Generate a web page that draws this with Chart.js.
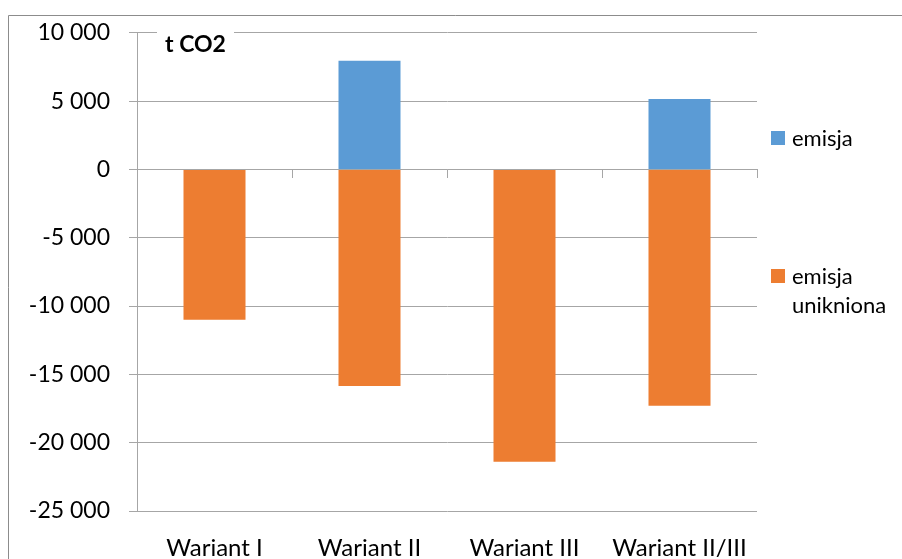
<!DOCTYPE html>
<html><head><meta charset="utf-8">
<script src="https://cdn.jsdelivr.net/npm/chart.js@4"></script>
<style>html,body{margin:0;padding:0;background:#fff;overflow:hidden}#wrap{width:902px;height:559px;position:relative}</style>
</head><body><div id="wrap"><canvas id="c" width="902" height="559"></canvas></div>
<script>
const categories = ['Wariant I', 'Wariant II', 'Wariant III', 'Wariant II/III'];
const emisja = [0, 7950, 0, 5150];
const emisjaUnikniona = [-11000, -15850, -21400, -17300];
const seriesLabels = ['emisja', 'emisja unikniona'];
const yTickValues = [-25000, -20000, -15000, -10000, -5000, 0, 5000, 10000];
const unitLabel = 't CO2';

const FONT = 'Lato';
const GRID = '#a6a6a6';
const fmt = v => {
  const s = Math.abs(v).toString().replace(/\B(?=(\d{3})+(?!\d))/g, ' ');
  return (v < 0 ? '-' : '') + s;
};

const framePlugin = {
  id: 'frame',
  beforeDraw(chart) {
    const ctx = chart.ctx;
    ctx.save();
    ctx.strokeStyle = '#8c8c8c';
    ctx.lineWidth = 1;
    ctx.beginPath();
    ctx.moveTo(8.5, 559);
    ctx.lineTo(8.5, 15.5);
    ctx.lineTo(902, 15.5);
    ctx.stroke();
    ctx.restore();
  }
};

const unitPlugin = {
  id: 'unit',
  afterDraw(chart) {
    const ctx = chart.ctx;
    ctx.save();
    ctx.fillStyle = '#fff';
    ctx.fillRect(157, 26, 77, 30);
    ctx.fillStyle = '#000';
    ctx.font = 'bold 23px ' + FONT;
    ctx.textBaseline = 'alphabetic';
    ctx.fillText(unitLabel, 165, 52);
    ctx.restore();
  }
};

const legendPlugin = {
  id: 'sideLegend',
  afterDraw(chart) {
    const ctx = chart.ctx;
    const tops = [131, 269];
    ctx.save();
    ctx.font = '22px ' + FONT;
    ctx.textBaseline = 'alphabetic';
    chart.data.datasets.forEach((ds, i) => {
      const top = tops[i];
      ctx.fillStyle = ds.backgroundColor;
      ctx.fillRect(771, top, 14, 14);
      ctx.fillStyle = '#000';
      const words = ds.label.split(' ');
      const lines = [];
      let cur = '';
      words.forEach(w => {
        const t = cur ? cur + ' ' + w : w;
        if (ctx.measureText(t).width > 105 && cur) { lines.push(cur); cur = w; } else cur = t;
      });
      lines.push(cur);
      lines.forEach((ln, j) => ctx.fillText(ln, 792, top + 15 + j * 29));
    });
    ctx.restore();
  }
};

new Chart(document.getElementById('c'), {
  type: 'bar',
  data: {
    labels: categories,
    datasets: [
      { label: seriesLabels[0], data: emisja, backgroundColor: '#5B9BD5', stack: 's' },
      { label: seriesLabels[1], data: emisjaUnikniona, backgroundColor: '#ED7D31', stack: 's' }
    ]
  },
  options: {
    responsive: false,
    animation: false,
    events: [],
    layout: { padding: { left: 0, right: 145, top: 32, bottom: 0 } },
    datasets: { bar: { barPercentage: 0.4, categoryPercentage: 1 } },
    plugins: { legend: { display: false }, tooltip: { enabled: false }, title: { display: false } },
    scales: {
      x: {
        stacked: true,
        grid: { display: false },
        border: { display: false },
        ticks: { font: { family: FONT, size: 24 }, color: '#000', padding: 15, maxRotation: 0, autoSkip: false },
        afterFit: s => { s.height = 48; }
      },
      x0: {
        type: 'category',
        axis: 'x',
        labels: categories,
        offset: true,
        position: { y: 0 },
        grid: { drawOnChartArea: false, tickLength: 8, color: GRID, offset: true },
        border: { color: GRID },
        ticks: { display: false }
      },
      y: {
        stacked: true,
        min: -25000,
        max: 10000,
        afterBuildTicks: s => { s.ticks = yTickValues.map(v => ({ value: v })); },
        ticks: { font: { family: FONT, size: 23 }, color: '#000', padding: 19, callback: v => fmt(v) },
        grid: { color: GRID, tickLength: 8 },
        border: { color: GRID },
        afterFit: s => { s.width = 137; }
      }
    }
  },
  plugins: [framePlugin, unitPlugin, legendPlugin]
});
</script>
</body></html>
